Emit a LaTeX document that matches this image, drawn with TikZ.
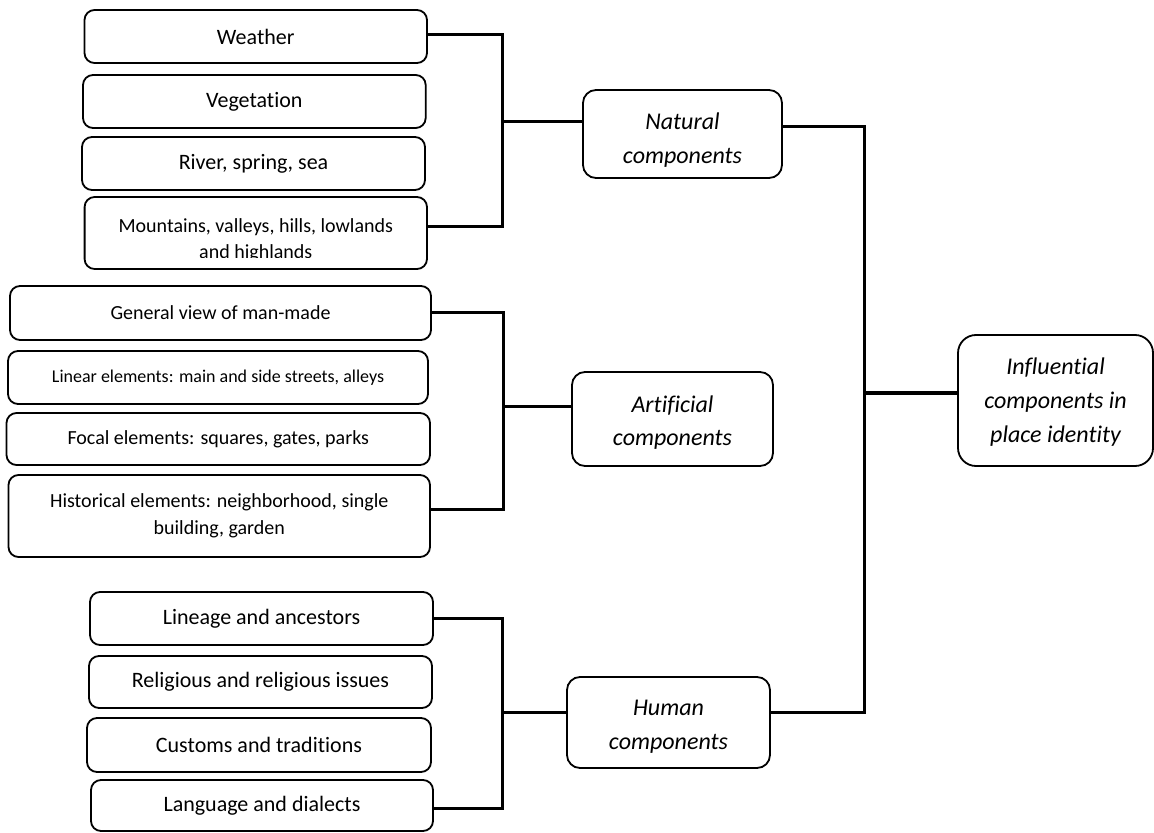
\documentclass[tikz,border=0pt]{standalone}
\usepackage{fontspec}
\setmainfont{Carlito}[Ligatures=NoCommon]
\usetikzlibrary{positioning}

\tikzset{
  leaf/.style={draw, rounded corners=5pt, line width=0.9pt, inner sep=0pt, align=center,
    font=\fontsize{11}{13.5}\selectfont},
  group/.style={draw, rounded corners=6.5pt, line width=0.9pt, inner sep=0pt},
  grouptxt/.style={inner sep=0pt, align=center, font=\itshape\fontsize{12}{17}\selectfont},
  link/.style={line width=1.5pt},
}

\begin{document}
\begin{tikzpicture}[x=0.5pt, y=-0.5pt]
      \useasboundingbox (0,0) rectangle (1154,833);
      % natural side
      \node[leaf, minimum width=171.25pt, minimum height=26.5pt] (weather) at (255.75,36.5) {Weather};
      \node[leaf, minimum width=171.35pt, minimum height=26.5pt] (veget) at (254.35,101.5) {Vegetation};
      \node[leaf, minimum width=171.5pt, minimum height=26.5pt] (river) at (253.5,163.5) {River, spring, sea};
      \node[leaf, minimum width=171.2pt, minimum height=36pt] (mount) at (255.8,233) {};
      \begin{scope}
        \clip (mount.north west) rectangle ([yshift=6pt]mount.south east);
        \node[align=center, inner sep=0pt, font=\fontsize{10}{13}\selectfont] (mounttxt) at (255.8,240.5)
          {Mountains, valleys, hills, lowlands\\and highlands};
      \end{scope}
      \node[group, minimum width=99.5pt, minimum height=44pt] (natural) at (682.5,134) {};
      \node[grouptxt] (naturaltxt) at ([yshift=-3.2pt]natural.center) {Natural\\components};
      % artificial side
      \node[leaf, minimum width=210.5pt, minimum height=27pt, font=\fontsize{10}{13.5}\selectfont] (general) at (220.5,313) {General view of man-made};
      \node[leaf, minimum width=210pt, minimum height=26.5pt, font=\fontsize{9}{12}\selectfont] (linear) at (218,377.5) {Linear elements: main and side streets, alleys};
      \node[leaf, minimum width=211.75pt, minimum height=26pt, font=\fontsize{10}{13.5}\selectfont] (focal) at (218.25,439) {Focal elements: squares, gates, parks};
      \node[leaf, minimum width=210.75pt, minimum height=41pt, font=\fontsize{10}{13.5}\selectfont] (hist) at (219.25,516) {Historical elements: neighborhood, single\\building, garden};
      \node[group, minimum width=100.5pt, minimum height=47pt] (artificial) at (672.5,419) {};
      \node[grouptxt] (artificialtxt) at ([yshift=-1.8pt]artificial.center) {Artificial\\components};
      % human side
      \node[leaf, minimum width=171.5pt, minimum height=26.5pt] (lineage) at (261.5,618.5) {Lineage and ancestors};
      \node[leaf, minimum width=171.5pt, minimum height=26pt] (relig) at (260.5,682) {Religious and religious issues};
      \node[leaf, minimum width=172pt, minimum height=27pt] (customs) at (259,745) {Customs and traditions};
      \node[leaf, minimum width=171pt, minimum height=25.5pt] (lang) at (262,805.5) {Language and dialects};
      \node[group, minimum width=101.5pt, minimum height=45.5pt] (human) at (668.5,722.5) {};
      \node[grouptxt] (humantxt) at ([yshift=-2pt]human.center) {Human\\components};
      % root
      \node[group, rounded corners=9pt, minimum width=97.5pt, minimum height=65.5pt] (infl) at (1055.5,400.5) {};
      \node[grouptxt] (infltxt) at ([yshift=-1pt]infl.center) {Influential\\components in\\place identity};

      % brackets
      \coordinate (nbr) at (502,122);
      \coordinate (abr) at (503,406);
      \coordinate (hbr) at (502,712);
      \coordinate (mainbr) at (864,393);
      \draw[link] ([yshift=1pt]weather.east) -| (nbr);
      \draw[link] ([yshift=3pt]mount.east) -| (nbr);
      \draw[link] (nbr) -- (nbr -| natural.west);
      \draw[link] (general.east) -| (abr);
      \draw[link] ([yshift=3.5pt]hist.east) -| (abr);
      \draw[link] (abr) -- (abr -| artificial.west);
      \draw[link] (lineage.east) -| (hbr);
      \draw[link] ([yshift=-1.5pt]lang.east) -| (hbr);
      \draw[link] (hbr) -- (hbr -| human.west);
      \draw[link] ([yshift=3.5pt]natural.east) -| (mainbr);
      \draw[link] ([yshift=5pt]human.east) -| (mainbr);
      \draw[link] (mainbr) -- (mainbr -| infl.west);
\end{tikzpicture}
\end{document}
